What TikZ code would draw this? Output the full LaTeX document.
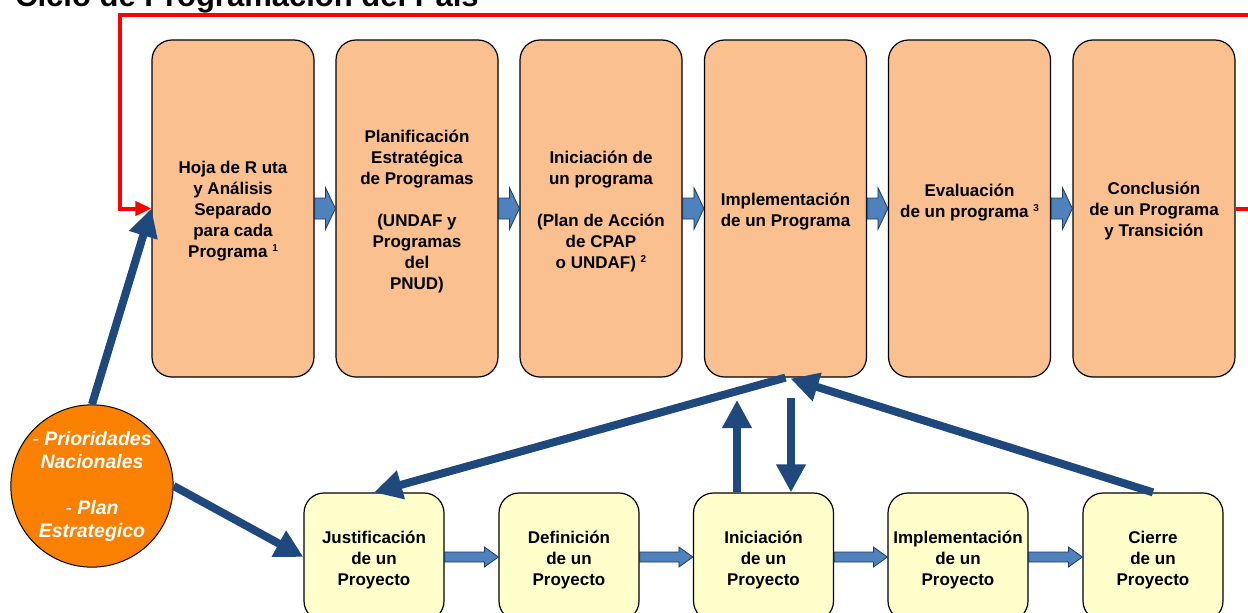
\documentclass[tikz,border=0pt]{standalone}
\usepackage{fontspec}
\setmainfont{Liberation Sans}
\usetikzlibrary{arrows.meta,calc}
\definecolor{boxorange}{HTML}{FAC08F}
\definecolor{boxyellow}{HTML}{FFFFCC}
\definecolor{circorange}{HTML}{F98000}
\definecolor{blockblue}{HTML}{4F81BD}
\definecolor{blockedge}{HTML}{1F3A60}
\definecolor{darkblue}{HTML}{1F497D}
\definecolor{loopred}{HTML}{FF0000}
\newcommand\sups[1]{\raisebox{6pt}{\fontsize{10}{10}\selectfont #1}}
\newcommand\blockarrow[5]{%
  \draw[blockstyle] let \p1=(#1.east), \p2=(#2.west) in
   (\x1,\y1+#3) -- (\x2-#5,\y1+#3) -- (\x2-#5,\y1+#4) -- (\x2,\y1)
   -- (\x2-#5,\y1-#4) -- (\x2-#5,\y1-#3) -- (\x1,\y1-#3) -- cycle;}
% box with its text, text set 3px lower than the box centre
\newcommand\tbox[5]{%
  \node[#4] (#1) at (#2,#3) {};
  \node[boxtext] (#1-txt) at ($(#1.center)+(0,3)$) {#5};}
\tikzset{
  topbox/.style={draw=black, line width=1.2pt, fill=boxorange, rounded corners=20pt,
    minimum width=162pt, minimum height=337pt, inner sep=0pt},
  botbox/.style={draw=black, line width=1.2pt, fill=boxyellow, rounded corners=20pt,
    minimum width=140pt, minimum height=128pt, inner sep=0pt},
  boxtext/.style={align=center, inner sep=0pt, font=\fontsize{17}{21}\selectfont\bfseries},
  blockstyle/.style={draw=blockedge, line width=0.8pt, fill=blockblue},
  bigarrow/.style={draw=darkblue, line width=8pt, -{Triangle[length=28pt,width=28pt]}},
  redloop/.style={draw=loopred, line width=4pt, -{Triangle[length=16pt,width=14pt]}},
  circ/.style={circle, draw=black, line width=1pt, fill=circorange, minimum size=162pt,
    inner sep=0pt, align=center, text=white,
    font=\fontsize{19.5}{23}\selectfont\bfseries\itshape},
  title/.style={anchor=base west, inner sep=0pt, font=\fontsize{31}{36}\selectfont\bfseries}
}
\begin{document}
\begin{tikzpicture}[x=1pt,y=-1pt]
\useasboundingbox (0,0) rectangle (1248,613);
\clip (0,0) rectangle (1248,613);
\node[title] (ttl) at (15,6) {Ciclo de Programación del País};

\tbox{t1}{233}{208.5}{topbox}{Hoja de R uta\\y Análisis\\Separado\\para cada\\Programa \sups{1}}
\tbox{t2}{417}{208.5}{topbox}{Planificación\\Estratégica\\de Programas\\~\\(UNDAF y\\Programas\\del\\PNUD)}
\tbox{t3}{601}{208.5}{topbox}{Iniciación de\\un programa\\~\\(Plan de Acción\\de CPAP\\o UNDAF) \sups{2}}
\tbox{t4}{785.5}{208.5}{topbox}{Implementación\\de un Programa}
\tbox{t5}{969.5}{208.5}{topbox}{Evaluación\\de un programa \sups{3}\\~}
\tbox{t6}{1154}{208.5}{topbox}{Conclusión\\de un Programa\\y Transición}

\tbox{j}{374}{557}{botbox}{Justificación\\de un\\Proyecto}
\tbox{d}{569}{557}{botbox}{Definición\\de un\\Proyecto}
\tbox{k}{763.5}{557}{botbox}{Iniciación\\de un\\Proyecto}
\tbox{m}{958}{557}{botbox}{Implementación\\de un\\Proyecto}
\tbox{e}{1153}{557}{botbox}{Cierre\\de un\\Proyecto}

\blockarrow{t1}{t2}{10.5pt}{21pt}{10pt}
\blockarrow{t2}{t3}{10.5pt}{21pt}{10pt}
\blockarrow{t3}{t4}{10.5pt}{21pt}{10pt}
\blockarrow{t4}{t5}{10.5pt}{21pt}{10pt}
\blockarrow{t5}{t6}{10.5pt}{21pt}{10pt}

\blockarrow{j}{d}{5pt}{10pt}{14pt}
\blockarrow{d}{k}{5pt}{10pt}{14pt}
\blockarrow{k}{m}{5pt}{10pt}{14pt}
\blockarrow{m}{e}{5pt}{10pt}{14pt}

\draw[redloop] (t6.east) -- (1262,208.5) -- (1262,15) -- (120,15) |- (t1.west);

\node[circ] (c) at (92,486) {{\mdseries -} Prioridades\\Nacionales\\~\\{\mdseries -} Plan\\Estrategico};

\coordinate (kup) at ($(k.north)+(-26.5,0)$);
\coordinate (upTop) at (737,400);
\coordinate (downTop) at (791,398);
\coordinate (kdown) at ($(k.north)+(27.5,0)$);
\coordinate (t4in) at ($(t4.south)+(5,1)$);

\draw[bigarrow] (c.north) -- (t1.west);
\draw[bigarrow] (c.east) -- (j.west);
\draw[bigarrow] (t4.south) -- (j.north);
\draw[bigarrow] (kup) -- (upTop);
\draw[bigarrow] (downTop) -- (kdown);
\draw[bigarrow] (e.north) -- (t4in);
\end{tikzpicture}
\end{document}
